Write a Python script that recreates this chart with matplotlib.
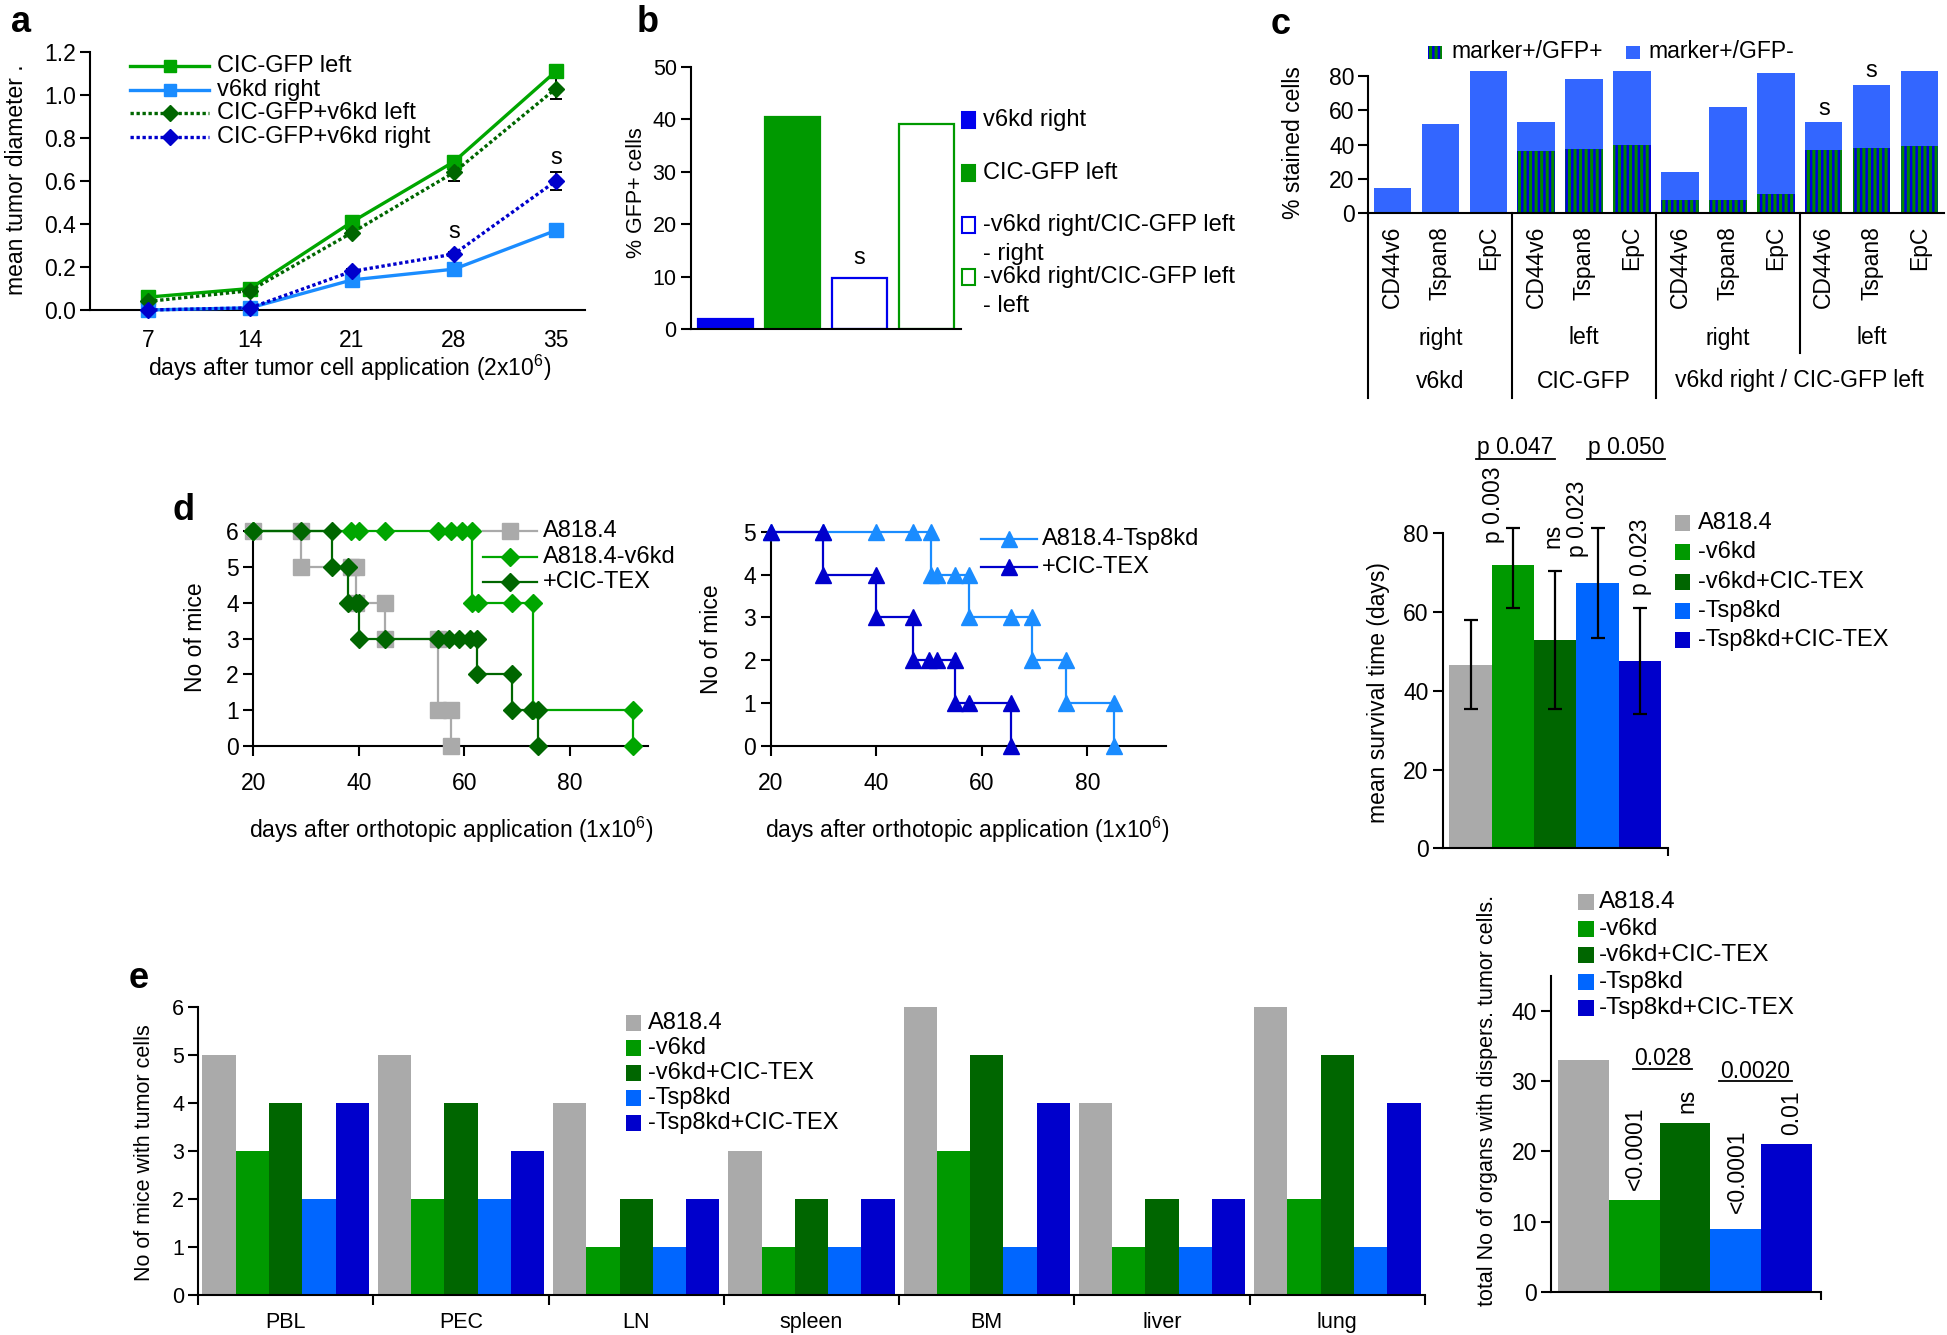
import numpy as np
import matplotlib
matplotlib.use("Agg")
import matplotlib.pyplot as plt
from matplotlib.patches import Rectangle
from matplotlib.lines import Line2D
from matplotlib.transforms import blended_transform_factory as btf

# ---------------- data ----------------
# panel a
a_days = [7, 14, 21, 28, 35]
a_cic_left = [0.06, 0.10, 0.41, 0.69, 1.11]
a_cic_left_err = [0, 0, 0, 0.01, 0.03]
a_v6kd_right = [0.00, 0.01, 0.14, 0.19, 0.37]
a_v6kd_right_err = [0, 0, 0.01, 0.01, 0.02]
a_mix_left = [0.04, 0.09, 0.36, 0.64, 1.03]
a_mix_left_err = [0, 0, 0.01, 0.04, 0.05]
a_mix_right = [0.00, 0.01, 0.18, 0.26, 0.60]
a_mix_right_err = [0, 0, 0.01, 0.01, 0.04]
a_labels = ['CIC-GFP left', 'v6kd right', 'CIC-GFP+v6kd left', 'CIC-GFP+v6kd right']

# panel b
b_labels = ['v6kd right', 'CIC-GFP left', '-v6kd right/CIC-GFP left', '-v6kd right/CIC-GFP left']
b_sublabels = ['', '', '- right', '- left']
b_values = [2.0, 40.5, 9.8, 39.0]

# panel c
c_markers = ['CD44v6', 'Tspan8', 'EpC'] * 4
c_sides = ['right', 'left', 'right', 'left']
c_groups = ['v6kd', 'CIC-GFP', 'v6kd right / CIC-GFP left']
c_gfp_pos = [0, 0, 0, 36.5, 37.5, 40, 8, 8, 11, 37, 38, 39]
c_gfp_neg = [15, 52, 83, 16.5, 40.5, 43, 16, 54, 71, 16, 37, 44]
c_legend = ['marker+/GFP+', 'marker+/GFP-']

# panel d (Kaplan-Meier step vertices)
km_a818_x = [20, 29, 29, 38.5, 39.5, 39.5, 45, 45, 55, 55, 57.5, 57.5]
km_a818_y = [6, 6, 5, 5, 5, 4, 4, 3, 3, 1, 1, 0]
km_v6kd_x = [20, 38.5, 40, 45, 55, 57.5, 59.5, 61.5, 61.5, 62.5, 69, 73, 73, 92, 92]
km_v6kd_y = [6, 6, 6, 6, 6, 6, 6, 6, 4, 4, 4, 4, 1, 1, 0]
km_v6tex_x = [20, 29, 35, 35, 38, 38, 39.5, 40, 40, 45, 55, 57, 59, 61, 62.3, 62.3, 69, 69, 72.8, 74, 74]
km_v6tex_y = [6, 6, 6, 5, 5, 4, 4, 4, 3, 3, 3, 3, 3, 3, 3, 2, 2, 1, 1, 1, 0]
km_tsp_x = [20, 30, 40, 47, 50.3, 50.3, 51.5, 55, 57.5, 57.5, 65.5, 69.5, 69.5, 76, 76, 85, 85]
km_tsp_y = [5, 5, 5, 5, 5, 4, 4, 4, 4, 3, 3, 3, 2, 2, 1, 1, 0]
km_tsptex_x = [20, 30, 30, 40, 40, 47, 47, 50, 51.5, 55, 55, 57.5, 65.5, 65.5]
km_tsptex_y = [5, 5, 4, 4, 3, 3, 2, 2, 2, 2, 1, 1, 1, 0]
km_left_labels = ['A818.4', 'A818.4-v6kd', '+CIC-TEX']
km_mid_labels = ['A818.4-Tsp8kd', '+CIC-TEX']

# panel d right
grp_labels = ['A818.4', '-v6kd', '-v6kd+CIC-TEX', '-Tsp8kd', '-Tsp8kd+CIC-TEX']
surv_mean = [46.5, 72.0, 53.0, 67.5, 47.5]
surv_low = [35.5, 61.0, 35.5, 53.5, 34.0]
surv_high = [58.0, 81.3, 70.5, 81.3, 61.0]
surv_pvals = ['p 0.003', 'ns', 'p 0.023', 'p 0.023']
surv_pairs = ['p 0.047', 'p 0.050']

# panel e
e_organs = ['PBL', 'PEC', 'LN', 'spleen', 'BM', 'liver', 'lung']
e_a818 = [5, 5, 4, 3, 6, 4, 6]
e_v6kd = [3, 2, 1, 1, 3, 1, 2]
e_v6kd_tex = [4, 4, 2, 2, 5, 2, 5]
e_tsp8kd = [2, 2, 1, 1, 1, 1, 1]
e_tsp8kd_tex = [4, 3, 2, 2, 4, 2, 4]
e_total = [33, 13, 24, 9, 21]
e_pvals = ['<0.0001', 'ns', '<0.0001', '0.01']
e_pairs = ['0.028', '0.0020']

# ---------------- style ----------------
GRAY = '#aaaaaa'
GREEN = '#009900'
BRGREEN = '#00a600'
DKGREEN = '#006600'
LTBLUE = '#0066ff'
SKYBLUE = '#1a8cff'
DKBLUE = '#0000cc'
CBLUE = '#3366ff'
BBLUE = '#0000ee'
grp_colors = [GRAY, GREEN, DKGREEN, LTBLUE, DKBLUE]
DOT = (0, (1, 0.8))

plt.rcParams['font.family'] = ['Liberation Sans', 'DejaVu Sans']
plt.rcParams['mathtext.fontset'] = 'custom'
plt.rcParams['mathtext.rm'] = 'Liberation Sans'
plt.rcParams['mathtext.default'] = 'regular'
plt.rcParams['hatch.linewidth'] = 2.2

W, H = 1947, 1335
DPI = 100
fig = plt.figure(figsize=(W / DPI, H / DPI), dpi=DPI)


def fx(x):
    return x / W


def fy(y):
    return 1 - y / H


def add_ax(l, t, r, b):
    ax = fig.add_axes([fx(l), fy(b), (r - l) / W, (b - t) / H])
    ax.spines['top'].set_visible(False)
    ax.spines['right'].set_visible(False)
    for s in ('left', 'bottom'):
        ax.spines[s].set_linewidth(1.5)
    ax.patch.set_alpha(0)
    ax.tick_params(width=1.5)
    return ax


def ftext(x, y, s, **kw):
    kw.setdefault('ha', 'center')
    kw.setdefault('va', 'center')
    fig.text(fx(x), fy(y), s, **kw)


def leg_patch(x, y, w, h, fc, ec=None, hatch=None, lw=0):
    r = Rectangle((fx(x), fy(y + h / 2)), w / W, h / H, transform=fig.transFigure,
                  facecolor=fc, edgecolor=ec if ec else fc, lw=lw, hatch=hatch)
    fig.add_artist(r)


def leg_line(x0, x1, y, color, ls, marker, ms, lw=1.8):
    ln = Line2D([fx(x0), fx(x1)], [fy(y), fy(y)], transform=fig.transFigure,
                color=color, ls=ls, lw=lw)
    fig.add_artist(ln)
    mk = Line2D([fx((x0 + x1) / 2)], [fy(y)], transform=fig.transFigure,
                marker=marker, ms=ms, color=color, ls='none')
    fig.add_artist(mk)


# panel letters
for lx, ly, s in [(21, 22, 'a'), (648, 22, 'b'), (1281, 24, 'c'), (184, 511, 'd'), (139, 979, 'e')]:
    ftext(lx, ly, s, fontsize=26, fontweight='bold')

# ---------------- panel a ----------------
axA = add_ax(90, 52, 585, 310)
series_a = [
    (a_cic_left, a_cic_left_err, BRGREEN, '-', 's', 9.5),
    (a_v6kd_right, a_v6kd_right_err, SKYBLUE, '-', 's', 9.5),
    (a_mix_left, a_mix_left_err, DKGREEN, DOT, 'D', 8.5),
    (a_mix_right, a_mix_right_err, DKBLUE, DOT, 'D', 8.5),
]
for vals, err, col, ls, mk, ms in series_a:
    axA.errorbar(a_days, vals, yerr=err, color=col, ls=ls, lw=2.4, marker=mk, ms=ms,
                 ecolor='black', elinewidth=1.4, capsize=4, capthick=1.4, clip_on=False, zorder=3)
axA.set_xlim(3, 37)
axA.set_ylim(0, 1.2)
axA.set_xticks(a_days)
axA.set_yticks(np.arange(0, 1.21, 0.2))
axA.set_yticklabels(['%.1f' % v for v in np.arange(0, 1.21, 0.2)])
axA.tick_params(axis='x', length=0, pad=14, labelsize=16.5)
axA.tick_params(axis='y', direction='out', length=7, pad=3, labelsize=16.5)
axA.text(28, 0.365, 's', ha='center', va='center', fontsize=17)
axA.text(35, 0.705, 's', ha='center', va='center', fontsize=17)
ftext(350, 368, 'days after tumor cell application (2x10$^{6}$)', fontsize=16.5)
ftext(17, 180, 'mean tumor diameter .', fontsize=16.5, rotation=90)
for i, (vals, err, col, ls, mk, ms) in enumerate(series_a):
    yy = 66 + i * 23.7
    leg_line(130, 209, yy, col, ls, mk, ms - 0.5, lw=2.4)
    ftext(217, yy, a_labels[i], ha='left', fontsize=17)

# ---------------- panel b ----------------
axB = add_ax(690.6, 66.7, 960.8, 329)
b_face = [BBLUE, GREEN, 'white', 'white']
b_edge = [BBLUE, GREEN, BBLUE, GREEN]
for i, v in enumerate(b_values):
    axB.bar(i, v, width=0.82, facecolor=b_face[i], edgecolor=b_edge[i], lw=1.6)
axB.set_xlim(-0.52, 3.51)
axB.set_ylim(0, 50)
axB.set_xticks([])
axB.set_yticks(range(0, 51, 10))
axB.tick_params(axis='y', direction='out', length=7, pad=3, labelsize=15.5)
axB.text(2, 13.5, 's', ha='center', va='center', fontsize=17)
ftext(636, 193, '% GFP+ cells', fontsize=15.5, rotation=90)
b_rows = [120, 173, 225, 277]
for i in range(4):
    leg_patch(962, b_rows[i], 13, 15, b_face[i], b_edge[i], lw=1.5)
    ftext(983, b_rows[i], b_labels[i], ha='left', fontsize=17)
    if b_sublabels[i]:
        ftext(983, b_rows[i] + 29, b_sublabels[i], ha='left', fontsize=17)

# ---------------- panel c ----------------
axC = add_ax(1368.4, 67.4, 1943.6, 213.3)
xc = np.arange(len(c_markers))
axC.bar(xc, c_gfp_pos, width=0.78, facecolor='#0000dd', edgecolor='#008800', hatch='|||', lw=0)
axC.bar(xc, c_gfp_neg, bottom=c_gfp_pos, width=0.78, color=CBLUE, lw=0)
axC.set_xlim(-0.5, 11.5)
axC.set_ylim(0, 85)
axC.spines['left'].set_bounds(0, 80)
axC.set_yticks(range(0, 81, 20))
axC.set_xticks(xc)
axC.set_xticklabels(c_markers, rotation=90, fontsize=16.5)
axC.tick_params(axis='x', length=0, pad=9)
axC.tick_params(axis='y', direction='out', length=7, pad=3, labelsize=16.5)
axC.text(9, 61, 's', ha='center', va='center', fontsize=17)
axC.text(10, 83, 's', ha='center', va='center', fontsize=17)
tc = btf(axC.transData, fig.transFigure)
for k, s in enumerate(c_sides):
    axC.text(1 + 3 * k, fy(338), s, transform=tc, ha='center', va='center', fontsize=16.5)
for xg, s in zip([1, 4, 8.5], c_groups):
    axC.text(xg, fy(381), s, transform=tc, ha='center', va='center', fontsize=16.5)
for xs, yb in [(-0.5, 398), (2.5, 398), (5.5, 398), (8.5, 353)]:
    axC.add_line(Line2D([xs, xs], [fy(213.3), fy(yb)], transform=tc, color='black', lw=1.5, clip_on=False))
ftext(1294, 143, '% stained cells', fontsize=16.5, rotation=90)
leg_patch(1428, 52, 14, 13, '#0000dd', '#008800', hatch='|||')
ftext(1451, 52, c_legend[0], ha='left', fontsize=16.5)
leg_patch(1626, 52, 14, 13, CBLUE)
ftext(1648, 52, c_legend[1], ha='left', fontsize=16.5)

# ---------------- panel d (KM left) ----------------
axD1 = add_ax(253.3, 531, 648, 746)
km_left = [(km_a818_x, km_a818_y, GRAY, 's', 11),
           (km_v6kd_x, km_v6kd_y, BRGREEN, 'D', 9),
           (km_v6tex_x, km_v6tex_y, DKGREEN, 'D', 9)]
for xs, ys, col, mk, ms in km_left:
    axD1.plot(xs, ys, color=col, lw=1.6, marker=mk, ms=ms, clip_on=False, zorder=3)
axD1.set_xlim(20, 94.8)
axD1.set_ylim(0, 6)
axD1.set_xticks([20, 40, 60, 80])
axD1.set_yticks(range(0, 7))
axD1.tick_params(direction='out', length=7, labelsize=16.5)
axD1.tick_params(axis='x', pad=12)
ftext(451, 830, 'days after orthotopic application (1x10$^{6}$)', fontsize=16.5)
ftext(196, 637, 'No of mice', fontsize=16.5, rotation=90)
for i, (xs, ys, col, mk, ms) in enumerate(km_left):
    yy = 531 + i * 25.5
    leg_line(483, 537, yy, col, '-', mk, ms, lw=1.6)
    ftext(543, yy, km_left_labels[i], ha='left', fontsize=17)

# ---------------- panel d (KM middle) ----------------
axD2 = add_ax(770.7, 531.7, 1165.5, 746)
km_mid = [(km_tsp_x, km_tsp_y, SKYBLUE, '^', 12),
          (km_tsptex_x, km_tsptex_y, DKBLUE, '^', 12)]
for xs, ys, col, mk, ms in km_mid:
    axD2.plot(xs, ys, color=col, lw=1.6, marker=mk, ms=ms, clip_on=False, zorder=3)
axD2.set_xlim(20, 94.8)
axD2.set_ylim(0, 5)
axD2.set_xticks([20, 40, 60, 80])
axD2.set_yticks(range(0, 6))
axD2.tick_params(direction='out', length=7, labelsize=16.5)
axD2.tick_params(axis='x', pad=12)
ftext(967, 830, 'days after orthotopic application (1x10$^{6}$)', fontsize=16.5)
ftext(711, 639, 'No of mice', fontsize=16.5, rotation=90)
for i, (xs, ys, col, mk, ms) in enumerate(km_mid):
    yy = 539 + i * 28
    leg_line(981, 1037, yy, col, '-', mk, ms, lw=1.6)
    ftext(1042, yy, km_mid_labels[i], ha='left', fontsize=17)

# ---------------- panel d (survival bars) ----------------
axD3 = add_ax(1442.6, 533.3, 1668, 848.3)
xd = np.arange(len(grp_labels))
yerr = [np.array(surv_mean) - np.array(surv_low), np.array(surv_high) - np.array(surv_mean)]
axD3.bar(xd, surv_mean, width=1.0, color=grp_colors, lw=0)
axD3.errorbar(xd, surv_mean, yerr=yerr, fmt='none', ecolor='black', elinewidth=1.6,
              capsize=5, capthick=1.6, clip_on=False)
axD3.set_xlim(-0.66, 4.66)
axD3.set_ylim(0, 80)
axD3.set_yticks(range(0, 81, 20))
axD3.set_xticks([4.66])
axD3.set_xticklabels([''])
axD3.tick_params(axis='x', direction='out', length=6)
axD3.tick_params(axis='y', direction='out', length=7, pad=3, labelsize=16.5)
for xp, yp, s in zip([0.55, 1.95, 2.53, 4.0], [77.5, 76.2, 74.0, 64.3], surv_pvals):
    axD3.text(xp, yp, s, rotation=90, ha='center', va='bottom', fontsize=16.5, clip_on=False)
for (x0, x1), s in zip([(0.13, 1.99), (2.75, 4.59)], surv_pairs):
    axD3.text((x0 + x1) / 2, 101.7, s, ha='center', va='center', fontsize=16.5, clip_on=False)
    axD3.plot([x0, x1], [98.9, 98.9], color='black', lw=1.3, clip_on=False)
ftext(1379, 693, 'mean survival time (days)', fontsize=16.5, rotation=90)
for i, lab in enumerate(grp_labels):
    yy = 523 + i * 29.3
    leg_patch(1675, yy, 15, 16, grp_colors[i])
    ftext(1698, yy, lab, ha='left', fontsize=17)

# ---------------- panel e (organs) ----------------
axE = add_ax(198, 1006.7, 1425, 1295)
e_series = [e_a818, e_v6kd, e_v6kd_tex, e_tsp8kd, e_tsp8kd_tex]
xo = np.arange(len(e_organs))
bw = 0.19
for j, vals in enumerate(e_series):
    axE.bar(xo + 0.5 + (j - 2) * bw, vals, width=bw, color=grp_colors[j], lw=0)
axE.set_xlim(0, 7)
axE.set_ylim(0, 6)
axE.set_xticks(range(0, 8))
axE.set_xticklabels([''] * 8)
axE.set_xticks(xo + 0.5, minor=True)
axE.set_xticklabels(e_organs, minor=True, fontsize=15.5)
axE.tick_params(axis='x', which='major', direction='out', length=7)
axE.tick_params(axis='x', which='minor', length=0, pad=12)
axE.set_yticks(range(0, 7))
axE.tick_params(axis='y', direction='out', length=7, pad=3, labelsize=15.5)
ftext(145, 1153, 'No of mice with tumor cells', fontsize=15.5, rotation=90)
for i, lab in enumerate(grp_labels):
    yy = 1023 + i * 25
    leg_patch(626, yy, 15, 16, grp_colors[i])
    ftext(648, yy, lab, ha='left', fontsize=17)

# ---------------- panel e (totals) ----------------
axE2 = add_ax(1550.7, 976, 1821, 1291.7)
axE2.bar(xd, e_total, width=1.0, color=grp_colors, lw=0)
axE2.set_xlim(-0.65, 4.68)
axE2.set_ylim(0, 45)
axE2.set_yticks(range(0, 41, 10))
axE2.set_xticks([4.68])
axE2.set_xticklabels([''])
axE2.tick_params(axis='x', direction='out', length=6)
axE2.tick_params(axis='y', direction='out', length=7, pad=3, labelsize=16.5)
for xp, yp, s in zip([1.01, 2.03, 3.04, 4.1], [14.5, 25.5, 11.2, 22.3], e_pvals):
    axE2.text(xp, yp, s, rotation=90, ha='center', va='bottom', fontsize=16.5)
for (x0, x1), yt, yl, s in zip([(0.97, 2.14), (2.67, 4.10)], [33.3, 31.4], [31.7, 30.0], e_pairs):
    axE2.text((x0 + x1) / 2, yt, s, ha='center', va='center', fontsize=16.5)
    axE2.plot([x0, x1], [yl, yl], color='black', lw=1.3, clip_on=False)
ftext(1487, 1100, 'total No of organs with dispers. tumor cells.', fontsize=15.5, rotation=90)
for i, lab in enumerate(grp_labels):
    yy = 902 + i * 26.6
    leg_patch(1578, yy, 15.5, 16, grp_colors[i])
    ftext(1599, yy, lab, ha='left', fontsize=17.5)

fig.savefig('out.png', dpi=DPI)
